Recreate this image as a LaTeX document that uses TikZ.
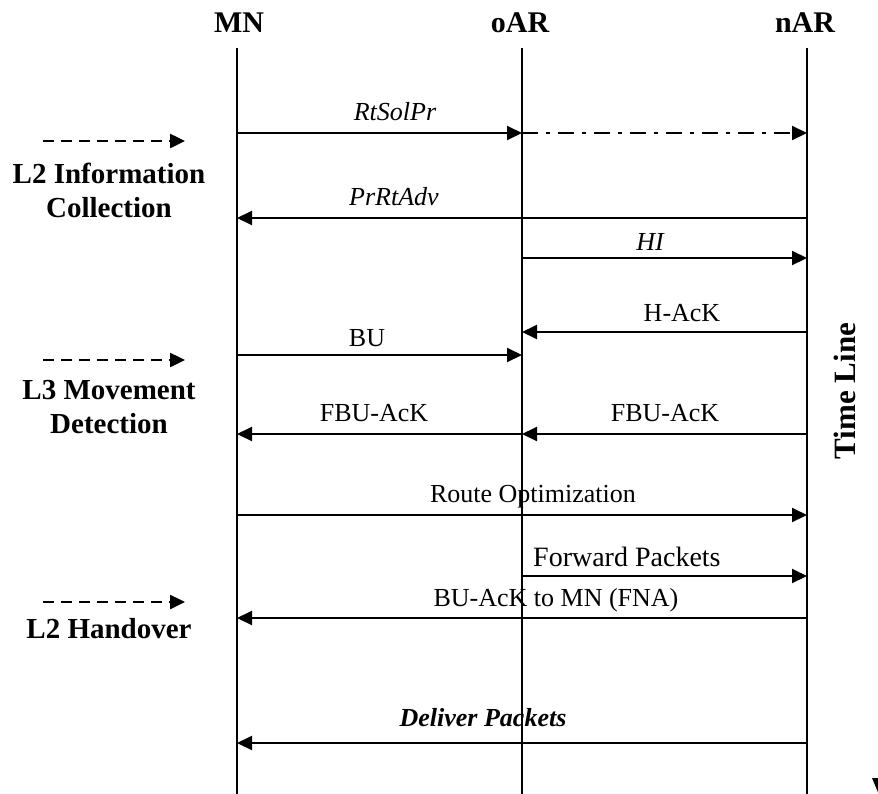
\documentclass[tikz,border=0pt]{standalone}
\usepackage{fontspec}
\setmainfont{Liberation Serif}
\usetikzlibrary{arrows.meta}
\begin{document}
\begin{tikzpicture}[x=1pt,y=-1pt,
  life/.style={line width=1.8pt},
  msg/.style={line width=2pt,-{Triangle[length=15pt,width=14pt]}},
  dashdot/.style={msg, dash pattern=on 16pt off 8pt on 4pt off 8pt},
  phase/.style={line width=2.5pt, dash pattern=on 11pt off 7pt, -{Triangle[length=15pt,width=14pt]}},
  lbl/.style={inner sep=0pt, anchor=base, font=\fontsize{26}{30}\selectfont},
  ilbl/.style={lbl, font=\fontsize{26}{30}\selectfont\itshape},
  head/.style={inner sep=0pt, anchor=base, font=\fontsize{30}{34}\selectfont\bfseries},
  side/.style={inner sep=0pt, anchor=base, align=center, font=\fontsize{29}{34}\selectfont\bfseries}
]
\useasboundingbox (0,0) rectangle (878,793);

% headers
\node[head] (MN)  at (239,32) {MN};
\node[head] (oAR) at (520,32) {oAR};
\node[head] (nAR) at (805,32) {nAR};

% lifelines
\coordinate (MNt) at (237,48);  \coordinate (MNb) at (237,800);
\coordinate (oARt) at (522,48); \coordinate (oARb) at (522,800);
\coordinate (nARt) at (807,48); \coordinate (nARb) at (807,800);
\draw[life] (MNt) -- (MNb);
\draw[life] (oARt) -- (oARb);
\draw[life] (nARt) -- (nARb);

% message end points
\coordinate (m1a) at (237,133); \coordinate (m1b) at (522,133); \coordinate (m1c) at (807,133);
\coordinate (m2a) at (807,218); \coordinate (m2b) at (237,218);
\coordinate (m3a) at (522,258); \coordinate (m3b) at (807,258);
\coordinate (m4a) at (807,332); \coordinate (m4b) at (522,332);
\coordinate (m5a) at (237,355); \coordinate (m5b) at (522,355);
\coordinate (m6a) at (807,434); \coordinate (m6b) at (522,434); \coordinate (m6c) at (237,434);
\coordinate (m7a) at (237,515); \coordinate (m7b) at (807,515);
\coordinate (m8a) at (522,576); \coordinate (m8b) at (807,576);
\coordinate (m9a) at (807,618); \coordinate (m9b) at (237,618);
\coordinate (m10a) at (807,743); \coordinate (m10b) at (237,743);

\draw[msg] (m1a) -- (m1b);
\draw[dashdot] (m1b) -- (m1c);
\draw[msg] (m2a) -- (m2b);
\draw[msg] (m3a) -- (m3b);
\draw[msg] (m4a) -- (m4b);
\draw[msg] (m5a) -- (m5b);
\draw[msg] (m6a) -- (m6b);
\draw[msg] (m6b) -- (m6c);
\draw[msg] (m7a) -- (m7b);
\draw[msg] (m8a) -- (m8b);
\draw[msg] (m9a) -- (m9b);
\draw[msg] (m10a) -- (m10b);

% message labels
\node[ilbl] (t1) at (395,120) {RtSolPr};
\node[ilbl] (t2) at (394,205) {PrRtAdv};
\node[ilbl] (t3) at (650,250) {HI};
\node[lbl] (t4) at (682,321) {H-AcK};
\node[lbl] (t5) at (367,346) {BU};
\node[lbl] (t6) at (374,421) {FBU-AcK};
\node[lbl] (t7) at (665,421) {FBU-AcK};
\node[lbl] (t8) at (533,502) {Route Optimization};
\node[lbl, anchor=base west, font=\fontsize{28}{32}\selectfont] (t9) at (533,566) {Forward Packets};
\node[lbl] (t10) at (556,606) {BU-AcK to MN (FNA)};
\node[lbl, font=\fontsize{26}{30}\selectfont\bfseries\itshape] (t11) at (483,726) {Deliver Packets};

% phase markers on the left
\coordinate (p1a) at (43,141);  \coordinate (p1b) at (185,141);
\coordinate (p2a) at (43,360);  \coordinate (p2b) at (185,360);
\coordinate (p3a) at (43,602);  \coordinate (p3b) at (185,602);
\draw[phase] (p1a) -- (p1b);
\draw[phase] (p2a) -- (p2b);
\draw[phase] (p3a) -- (p3b);
\node[side] (s1) at (109,217) {L2 Information\\Collection};
\node[side] (s2) at (109,433) {L3 Movement\\Detection};
\node[side] (s3) at (109,638) {L2 Handover};

% time line
\node[inner sep=0pt, rotate=90, font=\fontsize{31}{34}\selectfont\bfseries] (tl) at (845,391) {Time Line};
\fill (872,778) -- (888,778) -- (880,797) -- cycle;
\end{tikzpicture}
\end{document}
